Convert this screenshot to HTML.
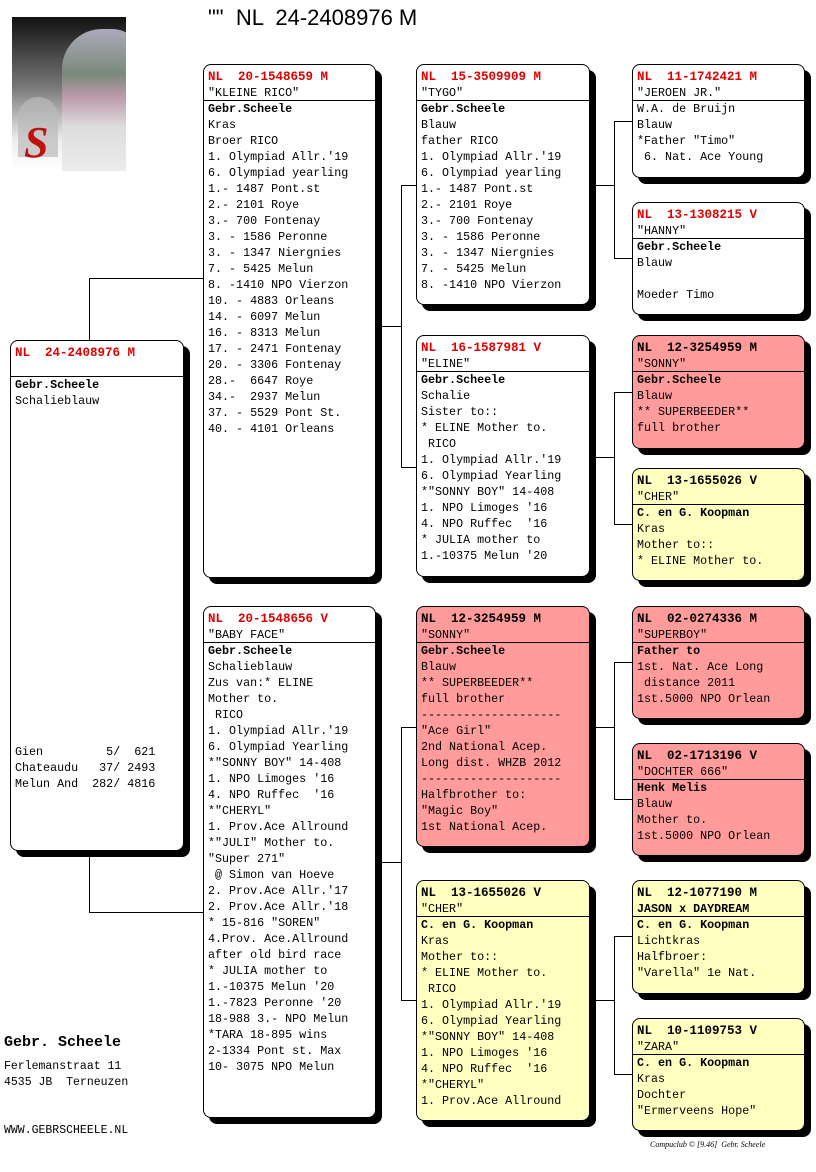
<!DOCTYPE html>
<html><head><meta charset="utf-8"><style>
body{margin:0;width:816px;height:1172px;background:#fff;position:relative;overflow:hidden;font-family:"Liberation Mono","Courier New",monospace;}
.b{position:absolute;border:1px solid #000;border-radius:8px;box-shadow:6px 6px 0 #000;background:#fff;font-size:11.7px;line-height:16px;box-sizing:border-box;overflow:hidden;}
.b .h{padding:4px 0 0 4px;border-bottom:1px solid #000;height:36px;box-sizing:border-box;white-space:pre;}
.b .h .n{color:#e00000;font-weight:bold;font-size:12.5px;}
.b.r .h .n,.b.y .h .n{color:#000;}
.b .c{padding:0 0 0 4px;white-space:pre;}
.b .c b{font-weight:bold;}
.r{background:#ff9b9b;}
.y{background:#ffffc0;}
.l{position:absolute;background:#000;}
</style></head><body>
<div style="position:absolute;left:12px;top:17px;width:114px;height:154px;background:linear-gradient(180deg,#111 0%,#777 45%,#eee 80%,#fff 100%);overflow:hidden">
<div style="position:absolute;left:50px;top:12px;width:80px;height:150px;border-radius:40px 30px 0 0;background:linear-gradient(180deg,#aab 0%,#7a8a7a 30%,#b9a 45%,#ddd 65%,#eee 100%)"></div>
<div style="position:absolute;left:6px;top:80px;width:40px;height:60px;border-radius:20px 20px 0 0;background:#bbb;opacity:.7"></div>
<div style="position:absolute;left:12px;top:100px;font:bold 44px 'Liberation Serif',serif;color:#c01010;font-style:italic">S</div>
</div>
<div style="position:absolute;left:208px;top:5px;font:22px 'Liberation Sans',sans-serif;white-space:pre">""  NL  24-2408976 M</div>

<div class="l" style="left:89px;top:278px;width:1px;height:62px"></div>
<div class="l" style="left:89px;top:278px;width:114px;height:1px"></div>
<div class="l" style="left:89px;top:856px;width:1px;height:56px"></div>
<div class="l" style="left:89px;top:912px;width:114px;height:1px"></div>

<div class="l" style="left:381px;top:326px;width:21px;height:1px"></div>
<div class="l" style="left:401px;top:185px;width:1px;height:282px"></div>
<div class="l" style="left:401px;top:185px;width:15px;height:1px"></div>
<div class="l" style="left:401px;top:467px;width:15px;height:1px"></div>
<div class="l" style="left:381px;top:862px;width:21px;height:1px"></div>
<div class="l" style="left:401px;top:727px;width:1px;height:273px"></div>
<div class="l" style="left:401px;top:727px;width:15px;height:1px"></div>
<div class="l" style="left:401px;top:1000px;width:15px;height:1px"></div>

<div class="l" style="left:595px;top:185px;width:20px;height:1px"></div>
<div class="l" style="left:614px;top:121px;width:1px;height:137px"></div>
<div class="l" style="left:614px;top:121px;width:18px;height:1px"></div>
<div class="l" style="left:614px;top:258px;width:18px;height:1px"></div>
<div class="l" style="left:595px;top:457px;width:20px;height:1px"></div>
<div class="l" style="left:614px;top:392px;width:1px;height:132px"></div>
<div class="l" style="left:614px;top:392px;width:18px;height:1px"></div>
<div class="l" style="left:614px;top:524px;width:18px;height:1px"></div>
<div class="l" style="left:595px;top:727px;width:20px;height:1px"></div>
<div class="l" style="left:614px;top:662px;width:1px;height:137px"></div>
<div class="l" style="left:614px;top:662px;width:18px;height:1px"></div>
<div class="l" style="left:614px;top:799px;width:18px;height:1px"></div>
<div class="l" style="left:595px;top:1000px;width:20px;height:1px"></div>
<div class="l" style="left:614px;top:936px;width:1px;height:138px"></div>
<div class="l" style="left:614px;top:936px;width:18px;height:1px"></div>
<div class="l" style="left:614px;top:1074px;width:18px;height:1px"></div>

<div class="b" style="left:10px;top:340px;width:174px;height:511px"><div class="h"><span class="n">NL  24-2408976 M</span></div><div class="c"><b>Gebr.Scheele</b>
Schalieblauw</div><div class="c" style="position:absolute;top:403px">Gien         5/  621
Chateaudu   37/ 2493
Melun And  282/ 4816</div></div>

<div class="b" style="left:203px;top:64px;width:173px;height:514px"><div class="h"><span class="n">NL  20-1548659 M</span>
"KLEINE RICO"</div><div class="c"><b>Gebr.Scheele</b>
Kras
Broer RICO
1. Olympiad Allr.'19
6. Olympiad yearling
1.- 1487 Pont.st
2.- 2101 Roye
3.- 700 Fontenay
3. - 1586 Peronne
3. - 1347 Niergnies
7. - 5425 Melun
8. -1410 NPO Vierzon
10. - 4883 Orleans
14. - 6097 Melun
16. - 8313 Melun
17. - 2471 Fontenay
20. - 3306 Fontenay
28.-  6647 Roye
34.-  2937 Melun
37. - 5529 Pont St.
40. - 4101 Orleans</div></div>

<div class="b" style="left:203px;top:606px;width:173px;height:512px"><div class="h"><span class="n">NL  20-1548656 V</span>
"BABY FACE"</div><div class="c"><b>Gebr.Scheele</b>
Schalieblauw
Zus van:* ELINE
Mother to.
 RICO
1. Olympiad Allr.'19
6. Olympiad Yearling
*"SONNY BOY" 14-408
1. NPO Limoges '16
4. NPO Ruffec  '16
*"CHERYL"
1. Prov.Ace Allround
*"JULI" Mother to.
"Super 271"
 @ Simon van Hoeve
2. Prov.Ace Allr.'17
2. Prov.Ace Allr.'18
* 15-816 "SOREN"
4.Prov. Ace.Allround
after old bird race
* JULIA mother to
1.-10375 Melun '20
1.-7823 Peronne '20
18-988 3.- NPO Melun
*TARA 18-895 wins
2-1334 Pont st. Max
10- 3075 NPO Melun</div></div>

<div class="b" style="left:416px;top:64px;width:174px;height:241px"><div class="h"><span class="n">NL  15-3509909 M</span>
"TYGO"</div><div class="c"><b>Gebr.Scheele</b>
Blauw
father RICO
1. Olympiad Allr.'19
6. Olympiad yearling
1.- 1487 Pont.st
2.- 2101 Roye
3.- 700 Fontenay
3. - 1586 Peronne
3. - 1347 Niergnies
7. - 5425 Melun
8. -1410 NPO Vierzon</div></div>

<div class="b" style="left:416px;top:335px;width:174px;height:242px"><div class="h"><span class="n">NL  16-1587981 V</span>
"ELINE"</div><div class="c"><b>Gebr.Scheele</b>
Schalie
Sister to::
* ELINE Mother to.
 RICO
1. Olympiad Allr.'19
6. Olympiad Yearling
*"SONNY BOY" 14-408
1. NPO Limoges '16
4. NPO Ruffec  '16
* JULIA mother to
1.-10375 Melun '20</div></div>

<div class="b r" style="left:416px;top:606px;width:174px;height:241px"><div class="h"><span class="n">NL  12-3254959 M</span>
"SONNY"</div><div class="c"><b>Gebr.Scheele</b>
Blauw
** SUPERBEEDER**
full brother
--------------------
"Ace Girl"
2nd National Acep.
Long dist. WHZB 2012
--------------------
Halfbrother to:
"Magic Boy"
1st National Acep.</div></div>

<div class="b y" style="left:416px;top:880px;width:174px;height:241px"><div class="h"><span class="n">NL  13-1655026 V</span>
"CHER"</div><div class="c"><b>C. en G. Koopman</b>
Kras
Mother to::
* ELINE Mother to.
 RICO
1. Olympiad Allr.'19
6. Olympiad Yearling
*"SONNY BOY" 14-408
1. NPO Limoges '16
4. NPO Ruffec  '16
*"CHERYL"
1. Prov.Ace Allround</div></div>

<div class="b" style="left:632px;top:64px;width:173px;height:114px"><div class="h"><span class="n">NL  11-1742421 M</span>
"JEROEN JR."</div><div class="c">W.A. de Bruijn
Blauw
*Father "Timo"
 6. Nat. Ace Young</div></div>

<div class="b" style="left:632px;top:202px;width:173px;height:113px"><div class="h"><span class="n">NL  13-1308215 V</span>
"HANNY"</div><div class="c"><b>Gebr.Scheele</b>
Blauw

Moeder Timo</div></div>

<div class="b r" style="left:632px;top:335px;width:173px;height:114px"><div class="h"><span class="n">NL  12-3254959 M</span>
"SONNY"</div><div class="c"><b>Gebr.Scheele</b>
Blauw
** SUPERBEEDER**
full brother</div></div>

<div class="b y" style="left:632px;top:468px;width:173px;height:113px"><div class="h"><span class="n">NL  13-1655026 V</span>
"CHER"</div><div class="c"><b>C. en G. Koopman</b>
Kras
Mother to::
* ELINE Mother to.</div></div>

<div class="b r" style="left:632px;top:606px;width:173px;height:113px"><div class="h"><span class="n">NL  02-0274336 M</span>
"SUPERBOY"</div><div class="c"><b>Father to</b>
1st. Nat. Ace Long
 distance 2011
1st.5000 NPO Orlean</div></div>

<div class="b r" style="left:632px;top:743px;width:173px;height:113px"><div class="h"><span class="n">NL  02-1713196 V</span>
"DOCHTER 666"</div><div class="c"><b>Henk Melis</b>
Blauw
Mother to.
1st.5000 NPO Orlean</div></div>

<div class="b y" style="left:632px;top:880px;width:173px;height:114px"><div class="h"><span class="n">NL  12-1077190 M</span>
<b>JASON x DAYDREAM</b></div><div class="c"><b>C. en G. Koopman</b>
Lichtkras
Halfbroer:
"Varella" 1e Nat.</div></div>

<div class="b y" style="left:632px;top:1018px;width:173px;height:113px"><div class="h"><span class="n">NL  10-1109753 V</span>
"ZARA"</div><div class="c"><b>C. en G. Koopman</b>
Kras
Dochter
"Ermerveens Hope"</div></div>

<div style="position:absolute;left:4px;top:1034px;font:bold 15px 'Liberation Mono',monospace">Gebr. Scheele</div>
<div style="position:absolute;left:4px;top:1059px;font:11.5px/16px 'Liberation Mono',monospace;white-space:pre">Ferlemanstraat 11
4535 JB  Terneuzen</div>
<div style="position:absolute;left:4px;top:1124px;font:11.5px 'Liberation Mono',monospace">WWW.GEBRSCHEELE.NL</div>
<div style="position:absolute;left:650px;top:1140px;font:italic 8px 'Liberation Serif',serif;white-space:pre">Compuclub © [9.46]  Gebr. Scheele</div>
</body></html>
